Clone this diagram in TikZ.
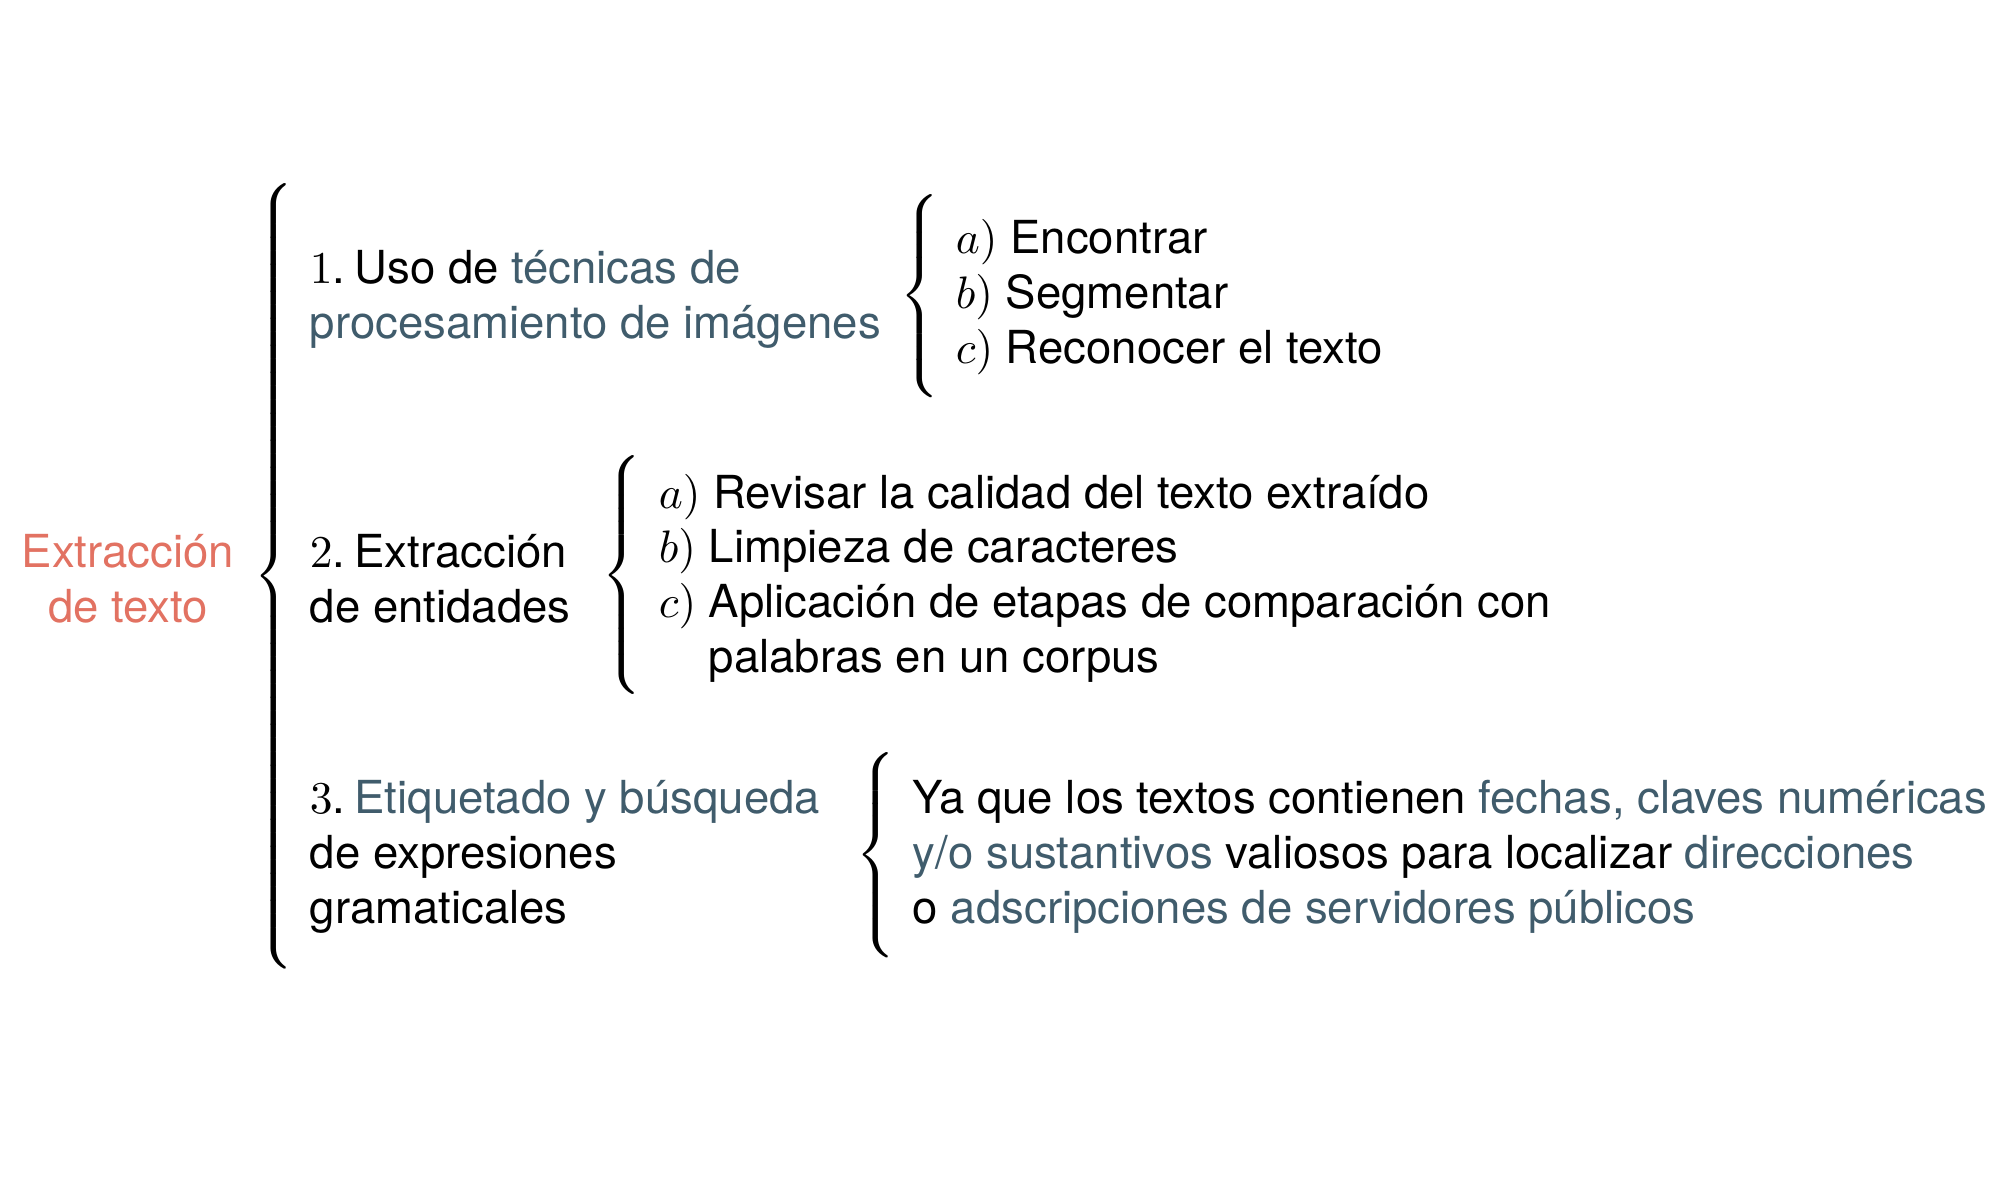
\documentclass[tikz,border=0pt]{standalone}
\usepackage{fontspec}
\setmainfont{TeX Gyre Heros}
\definecolor{salmon}{RGB}{226,114,98}
\definecolor{pizarra}{RGB}{64,92,108}
\newcommand{\llave}[1]{\resizebox*{\width}{#1}{$\delimiterfactor=1000\delimitershortfall=0pt\left\{\vcenter{\hbox{\rule{0pt}{#1}}}\right.$}}
\newcommand{\azul}[1]{\textcolor{pizarra}{#1}}
\newcommand{\num}[1]{$#1$.\hspace{2pt}}

\begin{document}
\begin{tikzpicture}
  [x=0.2197pt,y=-0.2197pt,every node/.style={inner sep=0pt,align=left,font=\fontsize{10}{12}\selectfont}]
  \useasboundingbox (0,0) rectangle (1992,1186);
  % Llaves
  \foreach \nombre/\x/\y/\h in {L0/276/576/172.5pt, L1/922/296/44.8pt, L2/624/575/52.7pt, L3/878/855/45pt}
    \node (\nombre) at (\x,\y) {\llave{\h}};

  % Raíz (anclada en la última línea)
  \node[anchor=base,align=center,text=salmon] (raiz) at (128,622) {Extracción\\de texto};

  % Etapas
  \node[anchor=base west] (e1) at (309,338) {\num{1}Uso de \azul{técnicas de}\\\azul{procesamiento de imágenes}};
  \node[anchor=base west] (e2) at (309,622) {\num{2}Extracción\\de entidades};
  \node[anchor=base west] (e3) at (309,923) {\num{3}\azul{Etiquetado y búsqueda}\\de expresiones\\gramaticales};

  % Subetapas
  \node[anchor=base west] (s1) at (955,363) {$a)$ Encontrar\\$b)$ Segmentar\\$c)$ Reconocer el texto};
  \node[anchor=base west] (s2) at (658,672) {$a)$ Revisar la calidad del texto extraído\\$b)$ Limpieza de caracteres\\$c)$ Aplicación de etapas de comparación con\\\phantom{$c)$ }palabras en un corpus};
  \node[anchor=base west] (s3) at (912,923) {Ya que los textos contienen \azul{fechas, claves numéricas}\\\azul{y/o sustantivos} valiosos para localizar \azul{direcciones}\\o \azul{adscripciones de servidores públicos}};
\end{tikzpicture}
\end{document}
